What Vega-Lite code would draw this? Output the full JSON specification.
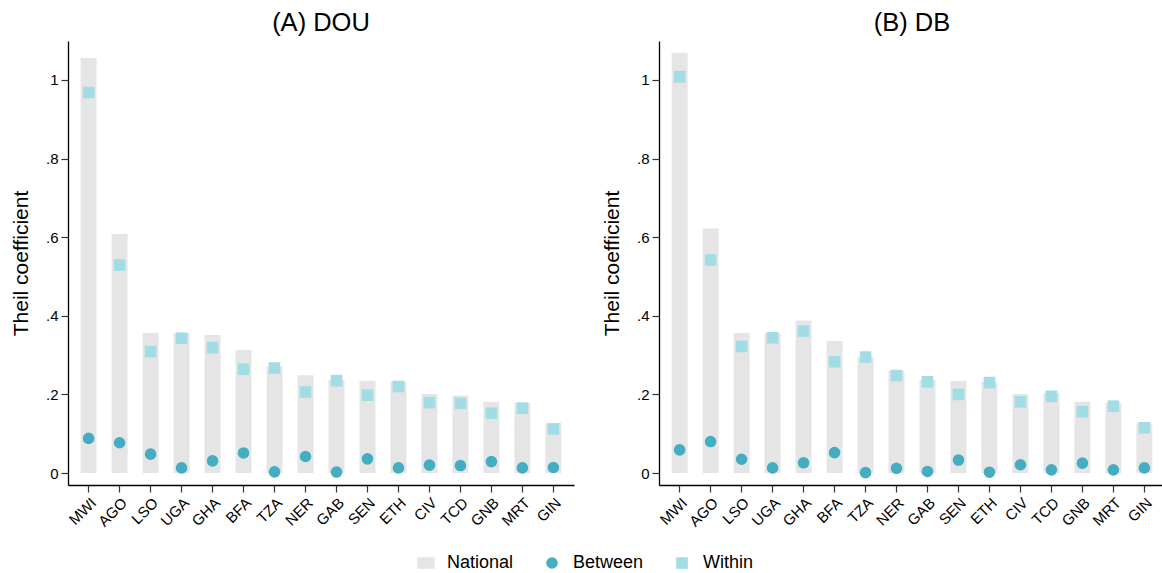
{
  "$schema": "https://vega.github.io/schema/vega-lite/v6.json",
  "padding": {"left": 10, "top": 10, "right": 0, "bottom": 0},
  "background": "white",
  "datasets": {
    "theil": [
      {"panel": "(A) DOU", "country": "MWI", "series": "National", "value": 1.056},
      {"panel": "(A) DOU", "country": "AGO", "series": "National", "value": 0.608},
      {"panel": "(A) DOU", "country": "LSO", "series": "National", "value": 0.356},
      {"panel": "(A) DOU", "country": "UGA", "series": "National", "value": 0.356},
      {"panel": "(A) DOU", "country": "GHA", "series": "National", "value": 0.351},
      {"panel": "(A) DOU", "country": "BFA", "series": "National", "value": 0.313},
      {"panel": "(A) DOU", "country": "TZA", "series": "National", "value": 0.271},
      {"panel": "(A) DOU", "country": "NER", "series": "National", "value": 0.249},
      {"panel": "(A) DOU", "country": "GAB", "series": "National", "value": 0.237},
      {"panel": "(A) DOU", "country": "SEN", "series": "National", "value": 0.235},
      {"panel": "(A) DOU", "country": "ETH", "series": "National", "value": 0.232},
      {"panel": "(A) DOU", "country": "CIV", "series": "National", "value": 0.201},
      {"panel": "(A) DOU", "country": "TCD", "series": "National", "value": 0.197},
      {"panel": "(A) DOU", "country": "GNB", "series": "National", "value": 0.181},
      {"panel": "(A) DOU", "country": "MRT", "series": "National", "value": 0.178},
      {"panel": "(A) DOU", "country": "GIN", "series": "National", "value": 0.127},
      {"panel": "(A) DOU", "country": "MWI", "series": "Within", "value": 0.968},
      {"panel": "(A) DOU", "country": "AGO", "series": "Within", "value": 0.529},
      {"panel": "(A) DOU", "country": "LSO", "series": "Within", "value": 0.309},
      {"panel": "(A) DOU", "country": "UGA", "series": "Within", "value": 0.343},
      {"panel": "(A) DOU", "country": "GHA", "series": "Within", "value": 0.319},
      {"panel": "(A) DOU", "country": "BFA", "series": "Within", "value": 0.264},
      {"panel": "(A) DOU", "country": "TZA", "series": "Within", "value": 0.267},
      {"panel": "(A) DOU", "country": "NER", "series": "Within", "value": 0.206},
      {"panel": "(A) DOU", "country": "GAB", "series": "Within", "value": 0.235},
      {"panel": "(A) DOU", "country": "SEN", "series": "Within", "value": 0.198},
      {"panel": "(A) DOU", "country": "ETH", "series": "Within", "value": 0.220},
      {"panel": "(A) DOU", "country": "CIV", "series": "Within", "value": 0.179},
      {"panel": "(A) DOU", "country": "TCD", "series": "Within", "value": 0.177},
      {"panel": "(A) DOU", "country": "GNB", "series": "Within", "value": 0.152},
      {"panel": "(A) DOU", "country": "MRT", "series": "Within", "value": 0.165},
      {"panel": "(A) DOU", "country": "GIN", "series": "Within", "value": 0.112},
      {"panel": "(A) DOU", "country": "MWI", "series": "Between", "value": 0.088},
      {"panel": "(A) DOU", "country": "AGO", "series": "Between", "value": 0.077},
      {"panel": "(A) DOU", "country": "LSO", "series": "Between", "value": 0.048},
      {"panel": "(A) DOU", "country": "UGA", "series": "Between", "value": 0.013},
      {"panel": "(A) DOU", "country": "GHA", "series": "Between", "value": 0.031},
      {"panel": "(A) DOU", "country": "BFA", "series": "Between", "value": 0.051},
      {"panel": "(A) DOU", "country": "TZA", "series": "Between", "value": 0.003},
      {"panel": "(A) DOU", "country": "NER", "series": "Between", "value": 0.042},
      {"panel": "(A) DOU", "country": "GAB", "series": "Between", "value": 0.0025},
      {"panel": "(A) DOU", "country": "SEN", "series": "Between", "value": 0.036},
      {"panel": "(A) DOU", "country": "ETH", "series": "Between", "value": 0.013},
      {"panel": "(A) DOU", "country": "CIV", "series": "Between", "value": 0.020},
      {"panel": "(A) DOU", "country": "TCD", "series": "Between", "value": 0.019},
      {"panel": "(A) DOU", "country": "GNB", "series": "Between", "value": 0.029},
      {"panel": "(A) DOU", "country": "MRT", "series": "Between", "value": 0.013},
      {"panel": "(A) DOU", "country": "GIN", "series": "Between", "value": 0.014},
      {"panel": "(B) DB", "country": "MWI", "series": "National", "value": 1.069},
      {"panel": "(B) DB", "country": "AGO", "series": "National", "value": 0.622},
      {"panel": "(B) DB", "country": "LSO", "series": "National", "value": 0.356},
      {"panel": "(B) DB", "country": "UGA", "series": "National", "value": 0.356},
      {"panel": "(B) DB", "country": "GHA", "series": "National", "value": 0.388},
      {"panel": "(B) DB", "country": "BFA", "series": "National", "value": 0.336},
      {"panel": "(B) DB", "country": "TZA", "series": "National", "value": 0.295},
      {"panel": "(B) DB", "country": "NER", "series": "National", "value": 0.260},
      {"panel": "(B) DB", "country": "GAB", "series": "National", "value": 0.237},
      {"panel": "(B) DB", "country": "SEN", "series": "National", "value": 0.234},
      {"panel": "(B) DB", "country": "ETH", "series": "National", "value": 0.232},
      {"panel": "(B) DB", "country": "CIV", "series": "National", "value": 0.201},
      {"panel": "(B) DB", "country": "TCD", "series": "National", "value": 0.204},
      {"panel": "(B) DB", "country": "GNB", "series": "National", "value": 0.181},
      {"panel": "(B) DB", "country": "MRT", "series": "National", "value": 0.178},
      {"panel": "(B) DB", "country": "GIN", "series": "National", "value": 0.127},
      {"panel": "(B) DB", "country": "MWI", "series": "Within", "value": 1.008},
      {"panel": "(B) DB", "country": "AGO", "series": "Within", "value": 0.542},
      {"panel": "(B) DB", "country": "LSO", "series": "Within", "value": 0.322},
      {"panel": "(B) DB", "country": "UGA", "series": "Within", "value": 0.344},
      {"panel": "(B) DB", "country": "GHA", "series": "Within", "value": 0.361},
      {"panel": "(B) DB", "country": "BFA", "series": "Within", "value": 0.283},
      {"panel": "(B) DB", "country": "TZA", "series": "Within", "value": 0.295},
      {"panel": "(B) DB", "country": "NER", "series": "Within", "value": 0.248},
      {"panel": "(B) DB", "country": "GAB", "series": "Within", "value": 0.232},
      {"panel": "(B) DB", "country": "SEN", "series": "Within", "value": 0.200},
      {"panel": "(B) DB", "country": "ETH", "series": "Within", "value": 0.230},
      {"panel": "(B) DB", "country": "CIV", "series": "Within", "value": 0.181},
      {"panel": "(B) DB", "country": "TCD", "series": "Within", "value": 0.195},
      {"panel": "(B) DB", "country": "GNB", "series": "Within", "value": 0.156},
      {"panel": "(B) DB", "country": "MRT", "series": "Within", "value": 0.170},
      {"panel": "(B) DB", "country": "GIN", "series": "Within", "value": 0.115},
      {"panel": "(B) DB", "country": "MWI", "series": "Between", "value": 0.059},
      {"panel": "(B) DB", "country": "AGO", "series": "Between", "value": 0.080},
      {"panel": "(B) DB", "country": "LSO", "series": "Between", "value": 0.035},
      {"panel": "(B) DB", "country": "UGA", "series": "Between", "value": 0.013},
      {"panel": "(B) DB", "country": "GHA", "series": "Between", "value": 0.026},
      {"panel": "(B) DB", "country": "BFA", "series": "Between", "value": 0.052},
      {"panel": "(B) DB", "country": "TZA", "series": "Between", "value": 0.001},
      {"panel": "(B) DB", "country": "NER", "series": "Between", "value": 0.012},
      {"panel": "(B) DB", "country": "GAB", "series": "Between", "value": 0.004},
      {"panel": "(B) DB", "country": "SEN", "series": "Between", "value": 0.033},
      {"panel": "(B) DB", "country": "ETH", "series": "Between", "value": 0.002},
      {"panel": "(B) DB", "country": "CIV", "series": "Between", "value": 0.021},
      {"panel": "(B) DB", "country": "TCD", "series": "Between", "value": 0.008},
      {"panel": "(B) DB", "country": "GNB", "series": "Between", "value": 0.025},
      {"panel": "(B) DB", "country": "MRT", "series": "Between", "value": 0.008},
      {"panel": "(B) DB", "country": "GIN", "series": "Between", "value": 0.013}
    ]
  },
  "data": {"name": "theil"},
  "facet": {
    "column": {
      "field": "panel",
      "type": "nominal",
      "header": {
        "title": null,
        "labelFontSize": 25.5,
        "labelFont": "Liberation Sans",
        "labelColor": "#000000",
        "labelPadding": 5
      }
    }
  },
  "spacing": 27,
  "resolve": {"axis": {"y": "independent", "x": "independent"}},
  "spec": {
    "width": 506,
    "height": 444,
    "encoding": {
      "x": {
        "field": "country",
        "type": "nominal",
        "sort": ["MWI", "AGO", "LSO", "UGA", "GHA", "BFA", "TZA", "NER", "GAB", "SEN", "ETH", "CIV", "TCD", "GNB", "MRT", "GIN"],
        "scale": {"paddingInner": 0.485, "paddingOuter": 0.408},
        "axis": {"title": null, "labelAngle": -45}
      },
      "y": {
        "field": "value",
        "type": "quantitative",
        "scale": {"domain": [-0.0305, 1.099], "nice": false, "zero": false},
        "axis": {
          "title": "Theil coefficient",
          "values": [0, 0.2, 0.4, 0.6, 0.8, 1],
          "labelExpr": "datum.value === 0 ? '0' : datum.value === 1 ? '1' : replace(format(datum.value, '.1f'), '0.', '.')"
        }
      },
      "color": {
        "field": "series",
        "type": "nominal",
        "scale": {"domain": ["National", "Between", "Within"], "range": ["#e5e5e5", "#44adc1", "#a2dde6"]},
        "legend": {"title": null, "orient": "none", "legendX": 349, "legendY": 513}
      }
    },
    "layer": [
      {
        "transform": [{"filter": "datum.series === 'National'"}],
        "mark": {"type": "bar"},
        "encoding": {"y2": {"datum": 0}}
      },
      {
        "transform": [{"filter": "datum.series !== 'National'"}],
        "mark": {"type": "point", "filled": true, "size": 135, "opacity": 1},
        "encoding": {
          "shape": {
            "field": "series",
            "type": "nominal",
            "scale": {"domain": ["National", "Between", "Within"], "range": ["M-1.5,-1H1.5V1H-1.5Z", "circle", "square"]},
            "legend": {"title": null, "orient": "none", "legendX": 349, "legendY": 513}
          }
        }
      }
    ]
  },
  "config": {
    "font": "Liberation Sans",
    "view": {"stroke": null},
    "axis": {
      "grid": false,
      "labelFont": "Liberation Sans",
      "labelFontSize": 15,
      "labelColor": "#000000",
      "titleFont": "Liberation Sans",
      "titleFontSize": 21,
      "titleFontWeight": "normal",
      "titleColor": "#000000",
      "domainColor": "#000000",
      "domainWidth": 1.3,
      "tickColor": "#333333",
      "tickSize": 7,
      "tickWidth": 1.2,
      "labelPadding": 3
    },
    "axisY": {"titlePadding": 14},
    "legend": {
      "direction": "horizontal",
      "labelFont": "Liberation Sans",
      "labelFontSize": 18,
      "labelColor": "#000000",
      "symbolSize": 135,
      "symbolStrokeWidth": 0,
      "labelOffset": 12,
      "columnPadding": 29
    }
  }
}
